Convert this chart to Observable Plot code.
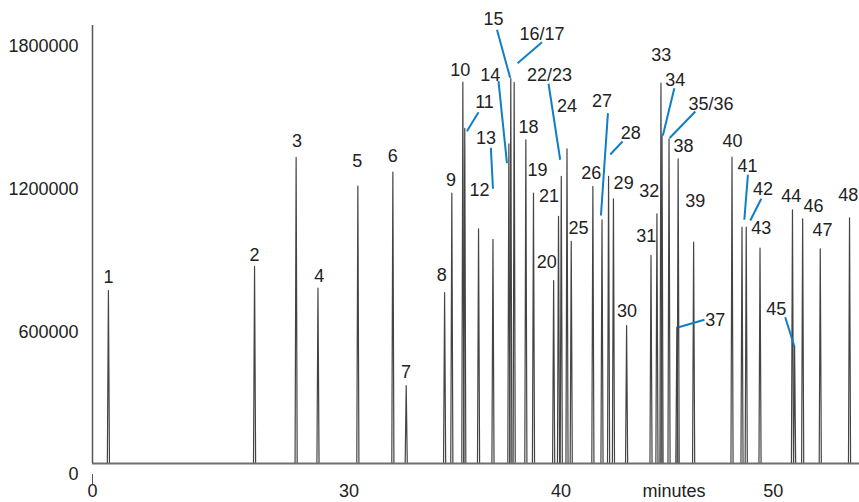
<!DOCTYPE html>
<html><head><meta charset="utf-8">
<script src="https://cdn.jsdelivr.net/npm/d3@7"></script>
<script src="https://cdn.jsdelivr.net/npm/@observablehq/plot@0.6"></script>
<style>body{margin:0;background:#fff}</style>
</head><body><div id="chart"></div>
<script>
// Peak identifiers, retention times (minutes) and apex signal
const peakIds = ["1","2","3","4","5","6","7","8","9","10","11","12","13","14","15","16/17","18","19","20","21","22/23","24","25","26","27","28","29","30","31","32","33","34","35/36","37","38","39","40","41","42","43","44","45","46","47","48"];
const peakTimes = [18.66,25.55,27.51,28.54,30.42,32.07,32.70,34.51,34.85,35.37,35.46,36.11,36.79,37.54,37.63,37.79,38.34,38.70,39.65,39.88,40.01,40.28,40.48,41.50,41.93,42.24,42.47,43.09,44.24,44.52,44.71,44.76,45.09,45.46,45.52,46.25,48.06,48.53,48.73,49.38,50.91,51.01,51.39,52.22,53.60];
const peakSignal = [774200,875200,1333800,783900,1213000,1271900,374500,765800,1183600,1650600,1455800,1033800,988800,1391500,1666200,1649400,1408300,1183600,816300,1085600,1253900,1370400,980400,1211800,1071700,1253900,1160000,626900,921500,1096900,1646400,1426400,1412500,619800,1328300,977400,1335000,1040500,1040500,952200,1113700,535600,1075900,949700,1080100];

// Peak label placement (minutes, signal)
const labelText = ["1","2","3","4","5","6","7","8","9","10","11","12","13","14","15","16/17","18","19","20","21","22/23","24","25","26","27","28","29","30","31","32","33","34","35/36","37","38","39","40","41","42","43","44","45","46","47","48"];
const labelTime = [18.66,25.55,27.55,28.60,30.39,32.07,32.69,34.38,34.81,35.25,36.39,36.16,36.46,36.66,36.82,39.10,38.47,38.89,39.33,39.43,39.46,40.28,40.82,41.42,41.93,43.29,42.95,43.11,44.02,44.16,44.72,45.38,47.07,47.27,45.77,46.33,48.08,48.79,49.52,49.44,50.85,50.15,51.90,52.33,53.54];
const labelSignal = [830200,921500,1402400,834400,1317000,1339300,430400,837300,1237000,1702800,1566500,1197900,1416700,1678800,1914500,1854300,1461300,1282100,893300,1169700,1678800,1548400,1036300,1267300,1570700,1434800,1224400,687900,1002700,1192000,1763000,1657800,1559700,648000,1381400,1148700,1402400,1297200,1199200,1036300,1169700,697200,1128900,1026700,1176900];

// Leader lines from label to peak (minutes, signal)
const leaderFromTime = [36.11,36.69,37.05,36.98,39.10,39.41,42.21,42.90,45.34,46.33,46.76,48.81,49.44,50.57];
const leaderFromSignal = [1524400,1374600,1654800,1871100,1819000,1643900,1520200,1401100,1625400,1527400,650900,1261000,1160000,661800];
const leaderToTime = [35.56,36.79,37.45,37.60,37.95,39.96,41.88,42.32,44.80,45.12,45.54,48.64,48.92,51.01];
const leaderToSignal = [1444500,1202100,1309800,1669200,1730600,1324100,1089800,1346400,1426400,1415900,619800,1071700,1068700,535600];

// Axes
const timeTicks = [17.91, 30, 40, 45.33, 50];
const timeTickLabels = ["0", "30", "40", "minutes", "50"];
const signalTicks = [0, 600000, 1200000, 1800000];
const baselineSignal = 46300;
const timeDomain = [17.91, 54.07];
const signalDomain = [46300, 1889000];

const peakHalfWidth = 0.05;
const trace = [];
peakTimes.forEach((t, i) => {
  trace.push({id: peakIds[i], t: t - peakHalfWidth, s: baselineSignal});
  trace.push({id: peakIds[i], t: t, s: peakSignal[i]});
  trace.push({id: peakIds[i], t: t + peakHalfWidth, s: baselineSignal});
});
const labels = labelText.map((text, i) => ({text, t: labelTime[i], s: labelSignal[i]}));
const leaders = leaderFromTime.map((t, i) => ({t1: t, s1: leaderFromSignal[i], t2: leaderToTime[i], s2: leaderToSignal[i]}));
const tickLabel = new Map(timeTicks.map((t, i) => [t, timeTickLabels[i]]));

const font = "'Liberation Sans', Arial, Helvetica, sans-serif";
const chart = Plot.plot({
  width: 859,
  height: 502,
  marginLeft: 92,
  marginRight: 0,
  marginTop: 25,
  marginBottom: 39,
  style: {fontFamily: font, background: "#fff", color: "#222", overflow: "visible"},
  x: {domain: timeDomain},
  y: {domain: signalDomain},
  marks: [
    Plot.line(trace, {x: "t", y: "s", z: "id", stroke: "#444", strokeWidth: 1.2}),
    Plot.ruleY([baselineSignal], {stroke: "#6e6e6e", strokeWidth: 2}),
    Plot.ruleX([timeDomain[0]], {stroke: "#555", strokeWidth: 1.5}),
    Plot.axisY({ticks: signalTicks, tickSize: 0, tickPadding: 14, fontSize: 18, fill: "#222", tickFormat: d => String(d)}),
    Plot.axisX({ticks: timeTicks, tickSize: 0, tickPadding: 21, fontSize: 18, fill: "#222", tickFormat: d => tickLabel.get(d)}),
    Plot.axisX({ticks: [timeTicks[0]], tickSize: 10, dy: 11, stroke: "#555", tickFormat: () => ""}),
    Plot.link(leaders, {x1: "t1", y1: "s1", x2: "t2", y2: "s2", stroke: "#0f7ec6", strokeWidth: 2}),
    Plot.text(labels, {x: "t", y: "s", text: "text", fontSize: 18, fill: "#222"})
  ]
});
document.getElementById("chart").appendChild(chart);
</script>
</body></html>
